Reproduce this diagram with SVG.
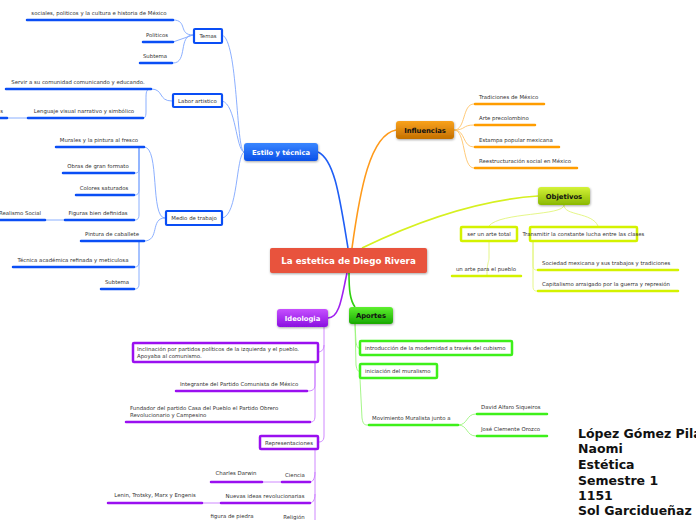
<svg xmlns="http://www.w3.org/2000/svg" width="696" height="520" viewBox="0 0 696 520">
<defs>
<linearGradient id="gBlue" x1="0" y1="0" x2="0" y2="1"><stop offset="0" stop-color="#3a86ff"/><stop offset="1" stop-color="#0a50e8"/></linearGradient>
<linearGradient id="gOrange" x1="0" y1="0" x2="0" y2="1"><stop offset="0" stop-color="#f9a21c"/><stop offset="1" stop-color="#c47000"/></linearGradient>
<linearGradient id="gYellow" x1="0" y1="0" x2="0" y2="1"><stop offset="0" stop-color="#d4f33a"/><stop offset="1" stop-color="#8ab800"/></linearGradient>
<linearGradient id="gGreen" x1="0" y1="0" x2="0" y2="1"><stop offset="0" stop-color="#5ef030"/><stop offset="1" stop-color="#18a800"/></linearGradient>
<linearGradient id="gPurple" x1="0" y1="0" x2="0" y2="1"><stop offset="0" stop-color="#c650ff"/><stop offset="1" stop-color="#8a10e0"/></linearGradient>
<filter id="sh" x="-20%" y="-20%" width="140%" height="160%"><feDropShadow dx="0.5" dy="1" stdDeviation="0.8" flood-opacity="0.35"/></filter>
</defs>
<style>
text{font-family:"DejaVu Sans","Verdana",sans-serif;font-size:5.4px;fill:#333}
.mt{font-weight:bold;font-size:6.8px}
.w{fill:#fff}
.k{fill:#111}
.c{text-anchor:middle}
.e{text-anchor:end}
.ub{stroke:#0a4ef5;stroke-width:2.5;stroke-linecap:round;fill:none}
.cb{stroke:#7ea6ff;stroke-width:0.9;fill:none}
.uo{stroke:#ff9d00;stroke-width:2.5;stroke-linecap:round;fill:none}
.co{stroke:#ffc46a;stroke-width:0.9;fill:none}
.uy{stroke:#d4f200;stroke-width:2.5;stroke-linecap:round;fill:none}
.cy{stroke:#e2f57a;stroke-width:0.9;fill:none}
.ug{stroke:#3ef01a;stroke-width:2.5;stroke-linecap:round;fill:none}
.cg{stroke:#9af57a;stroke-width:0.9;fill:none}
.up{stroke:#9a10f0;stroke-width:2.5;stroke-linecap:round;fill:none}
.cp{stroke:#c97aff;stroke-width:0.9;fill:none}
.bb{fill:#fff;stroke:#0a4ef5;stroke-width:2.2}
.by{fill:#fff;stroke:#d4f200;stroke-width:2.5}
.bg{fill:#fff;stroke:#3ef01a;stroke-width:2.5}
.bp{fill:#fff;stroke:#9a10f0;stroke-width:2.5}
.info{font-weight:bold;font-size:12.5px;fill:#111}
</style>

<g id="connectors">
<path d="M348,248 C340,200 335,160 318,152" stroke="#1f5ef5" stroke-width="1.6" fill="none"/>
<path d="M352,248 C360,190 370,135 396,130" stroke="#ff9a1a" stroke-width="1.6" fill="none"/>
<path d="M362,248 C420,220 480,200 538,196" stroke="#d6f020" stroke-width="1.6" fill="none"/>
<path d="M349,273 C349,290 350,300 355,307" stroke="#30d010" stroke-width="1.6" fill="none"/>
<path d="M347,273 C342,295 340,318 328,318" stroke="#a020f0" stroke-width="1.6" fill="none"/>
<path class="cb" d="M244,152 C236,150 238,40 222,35"/>
<path class="cb" d="M244,152 C236,150 236,104 222,101"/>
<path class="cb" d="M244,152 C236,156 238,216 222,218"/>
<path class="cb" d="M193,35 C178,35 188,20 173,20"/>
<path class="cb" d="M193,35 L173,42"/>
<path class="cb" d="M193,35 C178,35 188,63 173,63"/>
<path class="cb" d="M172,101 C158,101 164,89 151,89"/>
<path class="cb" d="M151,89 C146,89 146,92 146,100 L146,112 C146,118 144,118 143,118"/>
<path class="cb" d="M8,118 L27,118"/>
<path class="cb" d="M165,218 C150,218 160,147 144,147"/>
<path class="cb" d="M165,218 C150,218 160,241 144,241"/>
<path class="cb" d="M139,147 L139,168 C139,173 137,173 135,173"/>
<path class="cb" d="M139,147 L139,190 C139,195 136,195 134,195"/>
<path class="cb" d="M139,147 L139,215 C139,220 136,220 134,220"/>
<path class="cb" d="M45,220 L65,220"/>
<path class="cb" d="M139,241 L139,262 C139,267 136,267 134,267"/>
<path class="cb" d="M139,241 L139,284 C139,289 136,289 134,289"/>
<path class="co" d="M454,130 C466,130 462,104 474,104"/>
<path class="co" d="M454,130 C466,130 462,125 474,125"/>
<path class="co" d="M454,130 C466,130 462,147 474,147"/>
<path class="co" d="M454,130 C466,130 462,168 474,168"/>
<path class="cy" d="M564,205 C564,216 500,212 489,226"/>
<path class="cy" d="M564,205 C564,216 592,212 598,226"/>
<path class="cy" d="M489,241 L489,258 C489,262 487,262 487,276"/>
<path class="cy" d="M533,241 L533,265 C533,270 535,270 537,270"/>
<path class="cy" d="M533,241 L533,286 C533,291 535,291 537,291"/>
<path class="cg" d="M355,324 L356,342 C357,348 358,348 359,348"/>
<path class="cg" d="M355,324 L356,365 C357,371 358,371 359,371"/>
<path class="cg" d="M360,379 L362,418 C363,425 365,425 368,425"/>
<path class="cg" d="M458,425 C468,425 466,414 476,414"/>
<path class="cg" d="M458,425 C468,425 466,436 476,436"/>
<path class="cp" d="M324,327 L324,436 C324,442 320,442 318,442"/>
<path class="cp" d="M324,345 C324,351 320,352 318,352"/>
<path class="cp" d="M315,362 L315,385 C315,391 310,391 307,391"/>
<path class="cp" d="M315,362 L315,416 C315,422 312,422 310,422"/>
<path class="cp" d="M315,449 L315,520"/>
<path class="cp" d="M315,472 C315,480 312,482 310,482"/>
<path class="cp" d="M315,494 C315,501 312,503 310,503"/>
<path class="cp" d="M262,482 L281,482"/>
<path class="cp" d="M202,503 L220,503"/>
</g>

<g id="central">
<rect x="270" y="248" width="157" height="25" rx="2" fill="#e8523c" filter="url(#sh)"/>
<text x="348.5" y="264.2" class="c w" style="font-weight:bold;font-size:8.7px">La estetica de Diego Rivera</text>
</g>

<g id="estilo">
<rect x="244" y="143" width="74" height="18" rx="3" fill="url(#gBlue)" filter="url(#sh)"/>
<text x="281" y="154.5" class="c w mt">Estilo y técnica</text>
</g>
<g id="temas">
<rect x="194" y="29" width="28" height="14" rx="1" class="bb"/>
<text x="208" y="38" class="c">Temas</text>
<path class="ub" d="M27,20 L173,20"/><text x="99" y="15" class="c">sociales, politicos y la cultura e historia de México</text>
<path class="ub" d="M143,42 L173,42"/><text x="157" y="37" class="c">Politicos</text>
<path class="ub" d="M140,63 L172,63"/><text x="155" y="58" class="c">Subtema</text>
</g>
<g id="labor">
<rect x="173" y="94" width="49" height="13" rx="1" class="bb"/>
<text x="197.5" y="102.5" class="c">Labor artistico</text>
<path class="ub" d="M6,89 L151,89"/><text x="78" y="84" class="c">Servir a su comunidad comunicando y educando.</text>
<path class="ub" d="M28,118 L143,118"/><text x="84" y="113" class="c">Lenguaje visual  narrativo y simbólico</text>
<path class="ub" d="M0,118 L7,118"/><text x="3" y="113" class="e">s</text>
</g>
<g id="medio">
<rect x="166" y="211" width="56" height="14" rx="1" class="bb"/>
<text x="194" y="220" class="c">Medio de trabajo</text>
<path class="ub" d="M56,147 L144,147"/><text x="99" y="142" class="c">Murales y la pintura al fresco</text>
<path class="ub" d="M63,173 L134,173"/><text x="98" y="168" class="c">Obras de gran formato</text>
<path class="ub" d="M76,195 L134,195"/><text x="104" y="190" class="c">Colores saturados</text>
<path class="ub" d="M65,220 L134,220"/><text x="98" y="215" class="c">Figuras bien definidas</text>
<path class="ub" d="M0,220 L45,220"/><text x="20" y="215" class="c">Realismo Social</text>
<path class="ub" d="M81,241 L144,241"/><text x="112" y="236" class="c">Pintura de caballete</text>
<path class="ub" d="M13,267 L134,267"/><text x="73" y="262" class="c">Técnica académica refinada y meticulosa</text>
<path class="ub" d="M101,289 L134,289"/><text x="117" y="284" class="c">Subtema</text>
</g>

<g id="influencias">
<rect x="396" y="121" width="58" height="18" rx="3" fill="url(#gOrange)" filter="url(#sh)"/>
<text x="425" y="132.5" class="c k mt">Influencias</text>
<path class="uo" d="M475,104 L544,104"/><text x="479" y="99">Tradiciones de México</text>
<path class="uo" d="M475,125 L535,125"/><text x="479" y="120">Arte precolombino</text>
<path class="uo" d="M475,147 L559,147"/><text x="479" y="142">Estampa popular mexicana</text>
<path class="uo" d="M475,168 L577,168"/><text x="479" y="163">Reestructuración social en México</text>
</g>

<g id="objetivos">
<rect x="538" y="187" width="52" height="18" rx="3" fill="url(#gYellow)" filter="url(#sh)"/>
<text x="564" y="198.5" class="c k mt">Objetivos</text>
<rect x="461" y="227" width="56" height="14" rx="1" class="by"/>
<text x="489" y="236" class="c">ser un arte total</text>
<rect x="530" y="227" width="107" height="14" rx="1" class="by"/>
<text x="583.5" y="236" class="c">Transmitir la constante lucha entre las clases</text>
<path class="uy" d="M452,276 L521,276"/><text x="486" y="271" class="c">un arte para el pueblo</text>
<path class="uy" d="M538,270 L678,270"/><text x="542" y="265">Sociedad mexicana y sus trabajos y tradiciones</text>
<path class="uy" d="M538,291 L678,291"/><text x="542" y="286">Capitalismo arraigado por la guerra y represión</text>
</g>

<g id="aportes">
<rect x="349" y="307" width="44" height="17" rx="3" fill="url(#gGreen)" filter="url(#sh)"/>
<text x="371" y="318" class="c k mt">Aportes</text>
<rect x="360" y="341" width="152" height="14" rx="1" class="bg"/>
<text x="365" y="350">introducción de la modernidad a través del cubismo</text>
<rect x="360" y="364" width="77" height="14" rx="1" class="bg"/>
<text x="365" y="373">iniciación del muralismo</text>
<path class="ug" d="M369,425 L458,425"/><text x="372" y="420">Movimiento Muralista junto a</text>
<path class="ug" d="M477,414 L547,414"/><text x="481" y="409">David Alfaro Siqueiros</text>
<path class="ug" d="M477,436 L547,436"/><text x="481" y="431">José Clemente Orozco</text>
</g>

<g id="ideologia">
<rect x="277" y="309" width="51" height="18" rx="3" fill="url(#gPurple)" filter="url(#sh)"/>
<text x="302.5" y="320.5" class="c w mt">Ideologia</text>
<rect x="133" y="343" width="185" height="19" rx="1" class="bp"/>
<text x="137" y="351">Inclinación por partidos políticos de la izquierda y el pueblo.</text>
<text x="137" y="358">Apoyaba al comunismo.</text>
<path class="up" d="M176,391 L307,391"/><text x="180" y="386">Integrante del Partido Comunista de México</text>
<path class="up" d="M126,422 L310,422"/><text x="130" y="410">Fundador del partido  Casa del Pueblo el Partido Obrero</text><text x="130" y="417">Revolucionario y Campesino</text>
<rect x="260" y="436" width="58" height="13" rx="1" class="bp"/>
<text x="289" y="444.5" class="c">Representaciones</text>
<path class="up" d="M282,482 L310,482"/><text x="295" y="477" class="c">Ciencia</text>
<path class="up" d="M211,482 L262,482"/><text x="236" y="475" class="c">Charles Darwin</text>
<path class="up" d="M221,503 L310,503"/><text x="265" y="498" class="c">Nuevas ideas revolucionarias</text>
<path class="up" d="M108,503 L202,503"/><text x="155" y="497" class="c">Lenin, Trotsky, Marx y Engenis</text>
<text x="294" y="519" class="c">Religión</text>
<text x="232" y="518" class="c">figura de piedra</text>
</g>

<g id="info">
<text x="578" y="438" class="info">López Gómez Pilar</text>
<text x="578" y="453" class="info">Naomi</text>
<text x="578" y="469" class="info">Estética</text>
<text x="578" y="485" class="info">Semestre 1</text>
<text x="578" y="500" class="info">1151</text>
<text x="578" y="515" class="info">Sol Garcidueñaz</text>
</g>
</svg>
